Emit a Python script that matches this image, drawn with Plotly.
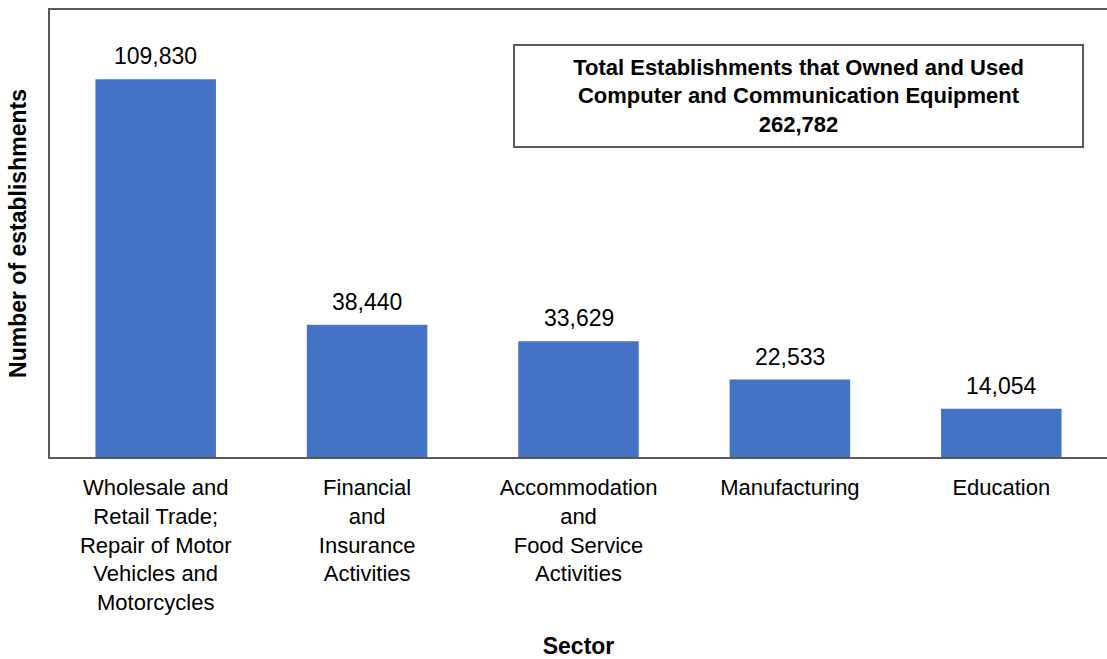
import plotly.graph_objects as go

categories = [
    "Wholesale and<br>Retail Trade;<br>Repair of Motor<br>Vehicles and<br>Motorcycles",
    "Financial<br>and<br>Insurance<br>Activities",
    "Accommodation<br>and<br>Food Service<br>Activities",
    "Manufacturing",
    "Education",
]
values = [109830, 38440, 33629, 22533, 14054]
total_label = "Total Establishments that Owned and Used<br>Computer and Communication Equipment<br>262,782"

FONT = "Arial, Liberation Sans, sans-serif"
AXIS_COLOR = "#595959"

fig = go.Figure()
fig.add_trace(go.Bar(
    x=categories,
    y=values,
    marker=dict(color="#4472C4", line=dict(width=0)),
    width=0.57,
    hoverinfo="x+y",
))

annotations = []
for c, v in zip(categories, values):
    annotations.append(dict(
        x=c, y=v, xref="x", yref="y",
        text=f"{v:,}", showarrow=False,
        yanchor="bottom", yshift=8,
        font=dict(family=FONT, size=23, color="#000000"),
    ))

annotations.append(dict(
    x=0.7077, y=0.8076, xref="paper", yref="paper",
    xanchor="center", yanchor="middle",
    text="<b>" + total_label + "</b>", showarrow=False,
    width=565, height=98,
    bordercolor=AXIS_COLOR, borderwidth=2, bgcolor="white",
    font=dict(family=FONT, size=22, color="#000000"),
))

fig.update_layout(
    width=1107, height=659,
    margin=dict(l=50, r=0, t=10, b=202),
    paper_bgcolor="white", plot_bgcolor="white",
    showlegend=False,
    bargap=0.43,
    annotations=annotations,
    font=dict(family=FONT, color="#000000"),
    xaxis=dict(
        automargin=False,
        showline=True, linecolor=AXIS_COLOR, linewidth=2, mirror=True,
        showgrid=False, ticks="", zeroline=False,
        tickfont=dict(family=FONT, size=22, color="#000000"),
        ticklabelstandoff=10,
        title=dict(text="<b>Sector</b>", font=dict(family=FONT, size=23, color="#000000"), standoff=31),
    ),
    yaxis=dict(
        automargin=False,
        range=[0, 130000],
        showline=True, linecolor=AXIS_COLOR, linewidth=2, mirror=False,
        showgrid=False, showticklabels=False, ticks="", zeroline=False,
        title=dict(text="<b>Number of establishments</b>", font=dict(family=FONT, size=23, color="#000000"), standoff=15),
    ),
)

fig.write_html(
    "out.html",
    config={"displayModeBar": False},
    post_script="document.body.style.margin='0px'; document.body.style.overflow='hidden';",
)
